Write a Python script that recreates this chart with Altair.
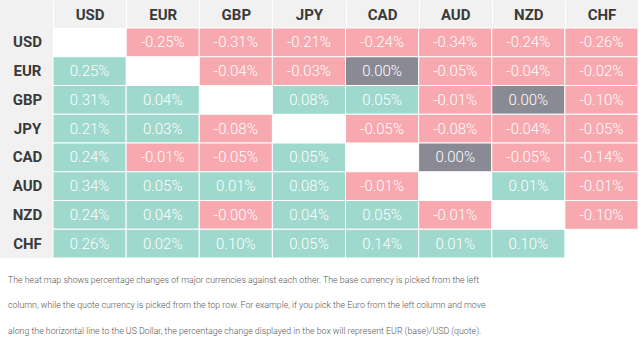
import altair as alt
import pandas as pd

currencies = ["USD", "EUR", "GBP", "JPY", "CAD", "AUD", "NZD", "CHF"]

# rows = base currency (left column), columns = quote currency (top row)
row_USD = [None, "-0.25%", "-0.31%", "-0.21%", "-0.24%", "-0.34%", "-0.24%", "-0.26%"]
row_EUR = ["0.25%", None, "-0.04%", "-0.03%", "0.00%", "-0.05%", "-0.04%", "-0.02%"]
row_GBP = ["0.31%", "0.04%", None, "0.08%", "0.05%", "-0.01%", "0.00%", "-0.10%"]
row_JPY = ["0.21%", "0.03%", "-0.08%", None, "-0.05%", "-0.08%", "-0.04%", "-0.05%"]
row_CAD = ["0.24%", "-0.01%", "-0.05%", "0.05%", None, "0.00%", "-0.05%", "-0.14%"]
row_AUD = ["0.34%", "0.05%", "0.01%", "0.08%", "-0.01%", None, "0.01%", "-0.01%"]
row_NZD = ["0.24%", "0.04%", "-0.00%", "0.04%", "0.05%", "-0.01%", None, "-0.10%"]
row_CHF = ["0.26%", "0.02%", "0.10%", "0.05%", "0.14%", "0.01%", "0.10%", None]

rows = [row_USD, row_EUR, row_GBP, row_JPY, row_CAD, row_AUD, row_NZD, row_CHF]

footnote = [
    "The heat map shows percentage changes of major currencies against each other. The base currency is picked from the left",
    "column, while the quote currency is picked from the top row. For example, if you pick the Euro from the left column and move",
    "along the horizontal line to the US Dollar, the percentage change displayed in the box will represent EUR (base)/USD (quote).",
]

records = []
for base, vals in zip(currencies, rows):
    for quote, label in zip(currencies, vals):
        if label is None:
            continue
        if label.startswith("-"):
            kind = "down"
        elif label == "0.00%":
            kind = "flat"
        else:
            kind = "up"
        records.append({"base": base, "quote": quote, "label": label, "kind": kind})
df = pd.DataFrame(records)

W, H = 585, 230
LEFT, TOP = 53, 28

x_enc = alt.X(
    "quote:N",
    sort=currencies,
    scale=alt.Scale(domain=currencies, paddingInner=0, paddingOuter=0),
    axis=alt.Axis(
        orient="top", title=None, labelAngle=0, domain=False,
        ticks=True, tickSize=TOP, tickColor="#ffffff", tickWidth=1, tickBand="extent",
        labelPadding=-14, labelBaseline="middle",
        labelFont="Roboto", labelFontSize=15, labelFontWeight="bold", labelColor="#3a3a3a",
    ),
)
y_enc = alt.Y(
    "base:N",
    sort=currencies,
    scale=alt.Scale(domain=currencies, paddingInner=0, paddingOuter=0),
    axis=alt.Axis(
        title=None, domain=False, ticks=False, labelAlign="center", labelPadding=26,
        labelBaseline="middle",
        labelFont="Roboto", labelFontSize=15, labelFontWeight="bold", labelColor="#3a3a3a",
    ),
)

base_chart = alt.Chart(df)

# gray header row and label column (decoration)
header_bg = base_chart.mark_rect(color="#f1f1f1", clip=False).encode(
    x=alt.value(-LEFT), x2=alt.value(W + 1), y=alt.value(-TOP), y2=alt.value(0)
)
label_bg = base_chart.mark_rect(color="#f1f1f1", clip=False).encode(
    x=alt.value(-LEFT), x2=alt.value(0), y=alt.value(0), y2=alt.value(H)
)

cells = base_chart.mark_rect(stroke="#ffffff", strokeWidth=1).encode(
    x=x_enc,
    y=y_enc,
    color=alt.Color(
        "kind:N",
        scale=alt.Scale(domain=["up", "down", "flat"], range=["#9fd8cc", "#f7a9af", "#8a8a95"]),
        legend=None,
    ),
)

texts = base_chart.mark_text(
    font="Roboto", fontSize=15, fontWeight=300, color="#ffffff", baseline="middle"
).encode(
    x=alt.X("quote:N", sort=currencies),
    y=alt.Y("base:N", sort=currencies),
    text="label:N",
)

chart = (
    alt.layer(header_bg, label_bg, cells, texts)
    .properties(
        width=W,
        height=H,
        padding={"left": LEFT, "top": TOP, "right": 1, "bottom": 96},
        autosize=alt.AutoSizeParams(type="none"),
        background="#ffffff",
        title=alt.TitleParams(
            text=footnote,
            orient="bottom",
            anchor="start",
            frame="group",
            dx=-45,
            offset=17,
            baseline="top",
            lineHeight=25.5,
            font="Roboto",
            fontSize=8.8,
            fontWeight=300,
            color="#555555",
        ),
    )
    .configure_view(stroke=None, fill="#ffffff")
)

chart.save("out.html", embed_options={"renderer": "svg", "actions": False})
